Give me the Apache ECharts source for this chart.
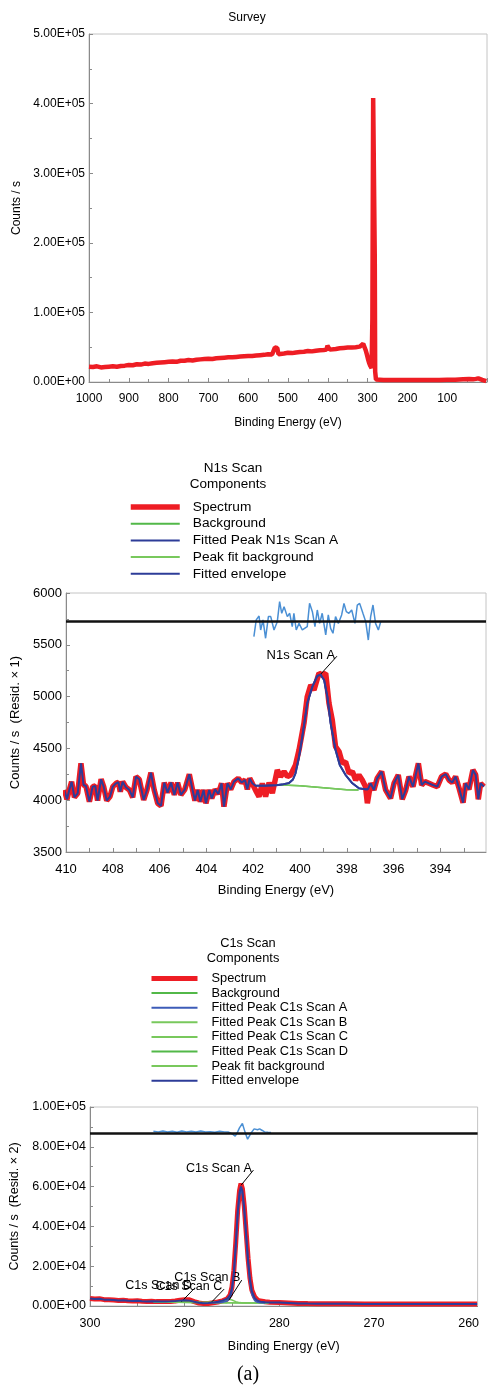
<!DOCTYPE html>
<html>
<head>
<meta charset="utf-8">
<script src="https://cdn.jsdelivr.net/npm/echarts@6/dist/echarts.min.js"></script>
<style>
  html, body { margin: 0; padding: 0; background: #fff; }
  #main { width: 491px; height: 1388px; }
</style>
</head>
<body>
<div id="main"></div>
<script>
// ---- Survey ----
const surveyEnergy = [1000,990,980,970,960,950,940,930,920,910,900,890,880,870,860,850,840,830,820,810,800,790,780,770,760,750,740,730,720,710,700,690,680,670,660,650,640,630,620,610,600,590,580,570,560,550,540,535,533,530,527,524,520,510,500,490,480,470,460,450,440,430,420,410,403,401,398,395,390,380,370,360,350,340,330,320,315,311,308,305,302,299,296,293,290,288,286,284,282,281,279,275,260,240,220,200,180,160,140,120,100,80,60,45,35,28,25,22,18,12,6,2];
const surveyCounts = [22000,21500,22500,21000,21500,22000,22500,22000,23000,23500,24400,24000,25500,25000,26500,26000,27000,27500,28000,28500,29000,29500,29000,30500,30500,31500,31000,32000,32500,33000,33500,33000,34000,34500,35000,35500,35500,36000,36500,37000,37400,37500,38000,38500,39000,40000,39500,40000,49500,50000,49000,40000,39500,41000,42000,41500,42500,43000,43500,44500,44000,45000,45500,46000,46500,52000,51500,46500,47000,47500,48500,49000,49500,49500,50000,50800,53000,55000,53500,46000,40000,33000,27000,23000,20000,90000,408000,408000,180000,15000,3500,2800,2900,2700,2900,2800,2900,2800,3000,2900,3100,3200,3800,4200,3900,4500,6000,5200,4200,3000,2000,1200];

// ---- N1s ----
const n1sEnergy = [410.07,409.96,409.86,409.76,409.64,409.5,409.36,409.25,409.15,409.0,408.86,408.75,408.65,408.5,408.39,408.26,408.12,408.0,407.86,407.76,407.68,407.58,407.44,407.29,407.15,407.01,406.87,406.68,406.54,406.37,406.23,406.08,405.94,405.8,405.66,405.51,405.37,405.23,405.09,404.92,404.73,404.59,404.49,404.37,404.26,404.12,404.02,403.88,403.77,403.63,403.49,403.35,403.25,403.1,402.96,402.82,402.64,402.49,402.35,402.25,402.15,402.04,401.89,401.75,401.61,401.47,401.32,401.18,400.97,400.83,400.68,400.54,400.4,400.19,400.04,399.83,399.69,399.54,399.4,399.19,399.05,398.9,398.76,398.62,398.48,398.33,398.19,398.05,397.9,397.76,397.62,397.48,397.34,397.2,397.12,396.98,396.84,396.7,396.51,396.34,396.13,395.98,395.8,395.63,395.48,395.34,395.17,394.94,394.8,394.66,394.49,394.32,394.13,393.95,393.77,393.63,393.49,393.35,393.2,393.03,392.92,392.78,392.61,392.49,392.38,392.28,392.14];
const n1sCounts = [4099,4009,4099,4179,4028,4067,4356,4147,4137,3986,4131,4137,3996,4202,4131,3996,4035,4131,4163,4173,4083,4179,4125,4099,4028,4228,4202,4002,4099,4266,4099,3970,3945,4170,4073,4170,4051,4170,4051,4105,4250,4099,3996,4099,3986,4099,3970,4099,4018,4105,4060,4163,3938,4163,4105,4179,4211,4170,4195,4105,4211,4163,4092,4035,4163,4035,4170,4067,4292,4228,4276,4228,4244,4340,4485,4742,4999,5112,5064,5225,5209,5225,4935,4774,4517,4470,4356,4370,4260,4276,4195,4244,4195,4131,3970,4163,4099,4211,4276,4099,4018,4163,4244,4009,4099,4228,4131,4356,4147,4179,4163,4147,4131,4228,4253,4195,4170,4228,4115,3976,4163,4105,4292,4244,4009,4163,4131];
const n1sFitEnergy = [401.9,401.5,401.0,400.7,400.47,400.3,400.19,400.04,399.9,399.69,399.47,399.26,399.12,398.97,398.83,398.69,398.48,398.3,398.05,397.76,397.48,397.2,397.1];
const n1sFitCounts = [4140,4140,4145,4155,4165,4200,4260,4420,4614,4935,5096,5199,5212,5160,5000,4742,4485,4340,4243,4163,4115,4105,4105];
const n1sBgEnergy = [401.0,400.5,400.0,399.5,399.0,398.5,398.0,397.5];
const n1sBgCounts = [4147,4145,4140,4130,4120,4110,4102,4099];
const n1sResidEnergy = [401.97,401.87,401.75,401.68,401.58,401.47,401.35,401.25,401.11,400.97,400.87,400.78,400.68,400.54,400.44,400.33,400.26,400.16,400.04,399.9,399.69,399.59,399.47,399.36,399.26,399.16,399.05,398.9,398.79,398.69,398.59,398.48,398.36,398.22,398.12,398.02,397.91,397.79,397.65,397.55,397.45,397.31,397.19,397.08,396.98,396.88,396.77,396.65,396.55];
const n1sResidCounts = [5579,5740,5778,5643,5740,5563,5772,5772,5643,5723,5916,5804,5868,5772,5804,5675,5804,5643,5707,5643,5675,5900,5820,5675,5836,5707,5804,5595,5788,5659,5611,5772,5707,5788,5900,5820,5804,5836,5707,5884,5900,5804,5723,5546,5772,5884,5707,5643,5723];
const n1sResidZero = 5730;
const n1sXLabels = [394,396,398,400,402,404,406,408,410];
const n1sXTicks = [393,394,395,396,397,398,399,400,401,402,403,404,405,406,407,408,409,410];

// ---- C1s ----
const c1sEnergy = [300,299.5,299,298.5,298,297.5,297,296.5,296,295.5,295,294.5,294,293.5,293,292.5,292,291.5,291,290.5,290,289.5,289,288.5,288,287.5,287,286.5,286,285.5,285.2,285,284.8,284.6,284.4,284.2,284.05,283.9,283.7,283.5,283.3,283.1,282.9,282.6,282.3,282,281.5,281,280,279,278,277,276,275,273,271,269,267,265,263,261,259.1];
const c1sCounts = [3800,3500,3600,3200,3100,3000,2800,2900,2600,2500,2600,2400,2300,2400,2200,2200,2300,2300,2500,2900,3200,3100,2200,1500,1200,1300,1600,2000,2600,3600,5500,9500,18000,32000,48000,58000,61500,59000,50000,37000,24000,14000,8000,4500,3000,2500,2100,1900,1700,1500,1300,1200,1150,1100,1100,1050,1000,1050,1000,1000,950,950];
const c1sFitEnergy = [293.3,292.5,292,291.5,291,290.5,290,289.5,289,288.5,288,287.5,287,286.5,286,285.5,285.2,285,284.8,284.6,284.4,284.2,284.05,283.9,283.7,283.5,283.3,283.1,282.9,282.6,282.3,282,281.5,281.1];
const c1sFitCounts = [2250,2250,2300,2350,2450,2700,2900,2700,2100,1600,1400,1450,1700,2100,2700,3700,5400,9000,17000,31000,47000,57000,60000,58000,49000,36000,23000,13500,7500,4000,2700,2200,1900,1800];
const c1sPeakAEnergy = [287,286.5,286,285.5,285.2,285,284.8,284.6,284.4,284.2,284.05,283.9,283.7,283.5,283.3,283.1,282.9,282.6,282.3,282,281.5];
const c1sPeakACounts = [1650,1700,1900,2600,4200,7500,15500,29500,45500,55500,58500,56500,47500,34500,21500,12000,6000,2800,1900,1700,1600];
const c1sPeakBEnergy = [287,286.5,286,285.6,285.3,285,284.6,284.2,283.8,283];
const c1sPeakBCounts = [1650,1800,2300,3000,3400,3000,2200,1700,1550,1500];
const c1sPeakCEnergy = [288.5,288,287.5,287,286.5,286,285.5];
const c1sPeakCCounts = [1600,1700,1900,2000,1900,1700,1600];
const c1sPeakDEnergy = [291,290.5,290,289.6,289.2,288.8,288.3];
const c1sPeakDCounts = [1800,2100,2500,2700,2400,2000,1700];
const c1sBgEnergy = [293.3,291,289,287,285,283,281.1];
const c1sBgCounts = [1900,1850,1800,1700,1650,1550,1500];
const c1sResidEnergy = [293.3,292.8,292.3,291.8,291.3,290.8,290.3,289.8,289.3,288.8,288.3,287.8,287.3,286.8,286.3,285.8,285.4,285.18,284.9,284.66,284.4,284.21,283.9,283.63,283.35,283.0,282.66,282.3,282.08,281.8,281.56,281.2,280.87];
const c1sResidCounts = [87800,87500,87900,87400,87800,87300,87900,87500,87800,87400,87900,87500,87600,87300,87800,87500,87400,87000,86200,85300,87500,89500,91700,87500,83800,86800,89000,88600,89000,88200,87500,87300,87200];
const c1sResidZero = 87000;
const c1sXLabels = [260,270,280,290,300];
const c1sXTicks = [260,265,270,275,280,285,290,295,300];

const FONT = 'Liberation Sans, Arial, Helvetica, sans-serif';
const RED = '#ee1d24';
const BLUE = '#2d3c98';
const BLUE2 = '#3d5cb8';
const GREEN = '#52b848';
const GREEN2 = '#78c85c';
const RESID = '#4a8fd4';

function pairs(xs, ys) {
    return xs.map(function (x, i) { return [x, ys[i]]; });
}
// envelope = spectrum outside the fitted region + fit inside it
function envelope(xs, ys, fx, fy) {
    let hi = fx[0], lo = fx[fx.length - 1];
    let out = [];
    xs.forEach(function (x, i) { if (x > hi) out.push([x, ys[i]]); });
    fx.forEach(function (x, i) { out.push([x, fy[i]]); });
    xs.forEach(function (x, i) { if (x < lo) out.push([x, ys[i]]); });
    return out;
}
function sci(v) {
    if (v === 0) return '0.00E+00';
    let e = Math.floor(Math.log10(Math.abs(v)));
    let m = v / Math.pow(10, e);
    return m.toFixed(2) + 'E' + (e < 0 ? '-' : '+') + String(Math.abs(e)).padStart(2, '0');
}
function line(name, x, y, data, color, width, z) {
    return {
        name: name, type: 'line', xAxisIndex: x, yAxisIndex: y, data: data,
        symbol: 'none', z: z || 2, silent: true,
        lineStyle: { color: color, width: width }, itemStyle: { color: color }
    };
}
function axisCommon(fs) {
    return {
        axisLine: { show: true, onZero: false, lineStyle: { color: '#8a8a8a', width: 1 } },
        axisTick: { show: true, inside: true, length: 4, lineStyle: { color: '#8a8a8a' } },
        minorTick: { show: true, splitNumber: 2, length: 3, lineStyle: { color: '#8a8a8a' } },
        splitLine: { show: false },
        minorSplitLine: { show: false },
        nameTextStyle: { color: '#000', fontSize: fs, fontFamily: FONT },
        axisLabel: { color: '#000', fontSize: fs, fontFamily: FONT, margin: 5 }
    };
}
function leader(pts) {
    return {
        silent: true, symbol: ['none', 'none'], label: { show: false },
        lineStyle: { color: '#000', width: 1, type: 'solid' },
        data: pts.map(function (p) { return [{ coord: p[0] }, { coord: p[1] }]; })
    };
}
function notes(list, fs) {
    return {
        silent: true, symbol: 'circle', symbolSize: 0,
        label: { show: true, position: 'inside', formatter: '{b}', color: '#000', fontSize: fs, fontFamily: FONT },
        data: list.map(function (n) { return { name: n[0], coord: n[1] }; })
    };
}
function txt(s, x, y, size, family) {
    return {
        type: 'text', x: x, y: y, silent: true,
        style: { text: s, fill: '#000', font: size + 'px ' + (family || FONT),
                 textAlign: 'center', textVerticalAlign: 'middle', align: 'center', verticalAlign: 'middle' }
    };
}
function legendItems(names, thick) {
    return names.map(function (n) {
        return n === 'Spectrum' ? { name: n, lineStyle: { width: thick } } : { name: n, lineStyle: { width: 2 } };
    });
}

let myChart = echarts.init(document.getElementById('main'));

// x-axes
let xSurvey = Object.assign(axisCommon(12), {
    type: 'value', gridIndex: 0, min: 0, max: 1000, interval: 100, inverse: true,
    name: 'Binding Energy (eV)', nameLocation: 'middle', nameGap: 35
});
xSurvey.axisLabel.margin = 11;
xSurvey.axisLabel.formatter = function (v) { return v === 0 ? '' : String(v); };

let xN1s = Object.assign(axisCommon(13), {
    type: 'value', gridIndex: 1, min: 392.05, max: 410, inverse: true,
    name: 'Binding Energy (eV)', nameLocation: 'middle', nameGap: 32
});
xN1s.axisLabel.margin = 11;
xN1s.axisLabel.customValues = n1sXLabels;
xN1s.axisTick.customValues = n1sXTicks;
xN1s.minorTick = { show: false };

let xC1s = Object.assign(axisCommon(12.5), {
    type: 'value', gridIndex: 2, min: 259.05, max: 300, inverse: true,
    name: 'Binding Energy (eV)', nameLocation: 'middle', nameGap: 34
});
xC1s.axisLabel.margin = 11;
xC1s.axisLabel.customValues = c1sXLabels;
xC1s.axisTick.customValues = c1sXTicks;
xC1s.minorTick = { show: false };

// y-axes
let ySurvey = Object.assign(axisCommon(12), {
    type: 'value', gridIndex: 0, min: 0, max: 500000, interval: 100000,
    name: 'Counts / s', nameLocation: 'middle', nameGap: 66
});
ySurvey.axisLabel.formatter = sci;
ySurvey.axisLabel.margin = 4;

let yN1s = Object.assign(axisCommon(13), {
    type: 'value', gridIndex: 1, min: 3500, max: 6000, interval: 500,
    name: 'Counts / s  (Resid. \u00d7 1)', nameLocation: 'middle', nameGap: 42
});
yN1s.axisLabel.margin = 4;
yN1s.axisLabel.formatter = function (v) { return String(v); };

let yC1s = Object.assign(axisCommon(12.5), {
    type: 'value', gridIndex: 2, min: 0, max: 100000, interval: 20000,
    name: 'Counts / s  (Resid. \u00d7 2)', nameLocation: 'middle', nameGap: 66
});
yC1s.axisLabel.formatter = sci;
yC1s.axisLabel.margin = 4;

let n1sResid = line('N1s residual', 1, 1, pairs(n1sResidEnergy, n1sResidCounts), RESID, 1.5, 3);
n1sResid.markLine = {
    silent: true, symbol: ['none', 'none'], label: { show: false },
    lineStyle: { color: '#111', width: 2.5, type: 'solid' }, data: [{ yAxis: n1sResidZero }]
};
let c1sResid = line('C1s residual', 2, 2, pairs(c1sResidEnergy, c1sResidCounts), RESID, 1.5, 3);
c1sResid.markLine = {
    silent: true, symbol: ['none', 'none'], label: { show: false },
    lineStyle: { color: '#111', width: 2.5, type: 'solid' }, data: [{ yAxis: c1sResidZero }]
};

let n1sPeak = line('Fitted Peak N1s Scan A', 1, 1, pairs(n1sFitEnergy, n1sFitCounts), BLUE, 1.8, 4);
n1sPeak.markLine = leader([[[399.12, 5215], [398.42, 5390]]]);
n1sPeak.markPoint = notes([['N1s Scan A', [399.96, 5400]]], 13);

let c1sPeakA = line('Fitted Peak C1s Scan A', 2, 2, pairs(c1sPeakAEnergy, c1sPeakACounts), BLUE2, 1.8, 4);
c1sPeakA.markLine = leader([
    [[284.04, 60700], [282.73, 68300]],
    [[285.32, 3000], [283.97, 13000]],
    [[287.25, 1500], [285.83, 8500]],
    [[290.35, 2100], [289.14, 8000]]
]);
c1sPeakA.markPoint = notes([
    ['C1s Scan A', [286.38, 69300]],
    ['C1s Scan D', [292.76, 10500]],
    ['C1s Scan C', [289.56, 9700]],
    ['C1s Scan B', [287.6, 14200]]
], 12.5);

let option = {
    animation: false,
    backgroundColor: '#fff',
    grid: [
        { left: 89, right: 4, top: 34, height: 348, show: true, borderColor: '#c4c4c4', borderWidth: 1 },
        { left: 66, right: 5, top: 593, height: 259, show: true, borderColor: '#c4c4c4', borderWidth: 1 },
        { left: 90, right: 4, top: 1107, height: 199, show: true, borderColor: '#c4c4c4', borderWidth: 1 }
    ],
    xAxis: [xSurvey, xN1s, xC1s],
    yAxis: [ySurvey, yN1s, yC1s],
    legend: [
        {
            left: 128, top: 500, orient: 'vertical', padding: 0, selectedMode: false,
            itemWidth: 49, itemHeight: 14, itemGap: 2.7,
            itemStyle: { opacity: 0 },
            textStyle: { color: '#000', fontSize: 13.7, fontFamily: FONT, padding: [0, 0, 0, 8] },
            data: legendItems(['Spectrum', 'Background', 'Fitted Peak N1s Scan A', 'Peak fit background', 'Fitted envelope'], 5.5)
        },
        {
            left: 149, top: 972, orient: 'vertical', padding: 0, selectedMode: false,
            itemWidth: 46, itemHeight: 14, itemGap: 1.6,
            itemStyle: { opacity: 0 },
            textStyle: { color: '#000', fontSize: 12.8, fontFamily: FONT, padding: [0, 0, 0, 9] },
            data: legendItems(['Spectrum', 'Background', 'Fitted Peak C1s Scan A', 'Fitted Peak C1s Scan B',
                   'Fitted Peak C1s Scan C', 'Fitted Peak C1s Scan D', 'Peak fit background', 'Fitted envelope'], 5)
        }
    ],
    graphic: [
        txt('Survey', 247, 18, 12),
        txt('N1s Scan', 233, 468, 13.5),
        txt('Components', 228, 484, 13.5),
        txt('C1s Scan', 248, 943, 12.8),
        txt('Components', 243, 958, 12.8),
        txt('(a)', 248, 1375, 20, 'Liberation Serif, Times New Roman, serif')
    ],
    series: [
        line('Survey', 0, 0, pairs(surveyEnergy, surveyCounts), RED, 4.5, 2),

        line('Spectrum', 1, 1, pairs(n1sEnergy, n1sCounts), RED, 5.5, 2),
        line('Background', 1, 1, pairs(n1sBgEnergy, n1sBgCounts), GREEN, 1.5, 3),
        n1sPeak,
        line('Peak fit background', 1, 1, pairs(n1sBgEnergy, n1sBgCounts), GREEN2, 1.5, 3),
        line('Fitted envelope', 1, 1, envelope(n1sEnergy, n1sCounts, n1sFitEnergy, n1sFitCounts), BLUE, 2, 5),
        n1sResid,

        line('Spectrum', 2, 2, pairs(c1sEnergy, c1sCounts), RED, 5, 2),
        line('Background', 2, 2, pairs(c1sBgEnergy, c1sBgCounts), GREEN, 1.5, 3),
        c1sPeakA,
        line('Fitted Peak C1s Scan B', 2, 2, pairs(c1sPeakBEnergy, c1sPeakBCounts), GREEN2, 1.5, 3),
        line('Fitted Peak C1s Scan C', 2, 2, pairs(c1sPeakCEnergy, c1sPeakCCounts), GREEN2, 1.5, 3),
        line('Fitted Peak C1s Scan D', 2, 2, pairs(c1sPeakDEnergy, c1sPeakDCounts), GREEN, 1.5, 3),
        line('Peak fit background', 2, 2, pairs(c1sBgEnergy, c1sBgCounts), GREEN2, 1.5, 3),
        line('Fitted envelope', 2, 2, envelope(c1sEnergy, c1sCounts, c1sFitEnergy, c1sFitCounts), BLUE, 2, 5),
        c1sResid
    ]
};
myChart.setOption(option);
</script>
</body>
</html>
